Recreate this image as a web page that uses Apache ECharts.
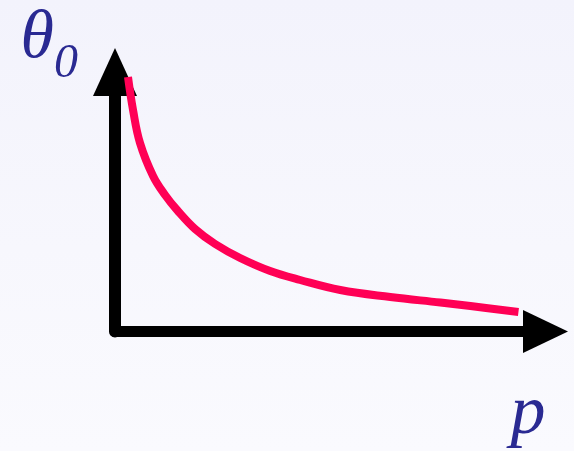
<!DOCTYPE html>
<html>
<head>
<meta charset="utf-8">
<script src="https://cdn.jsdelivr.net/npm/echarts@6/dist/echarts.min.js"></script>
<style>
  html, body { margin: 0; padding: 0; }
  #chart {
    width: 574px; height: 451px;
    background: linear-gradient(to bottom, #f3f3fc 0%, #f7f7fd 55%, #fafafe 100%);
  }
</style>
</head>
<body>
<div id="chart"></div>
<script>
// Decay of θ₀ with p (arbitrary units on both axes)
const pValues     = [0.302, 0.419, 0.581, 0.884, 1.163, 1.442, 1.860, 2.326, 2.907, 3.605, 4.302, 5.233, 6.395, 7.558, 8.256, 9.372];
const thetaValues = [9.807, 8.536, 7.264, 5.992, 5.260, 4.682, 3.950, 3.372, 2.832, 2.331, 1.985, 1.599, 1.329, 1.117, 0.983, 0.751];
const xAxisName = 'p';
const yAxisName = 'θ';
const ySubscript = '0';

const points = pValues.map((p, i) => [p, thetaValues[i]]);

const chart = echarts.init(document.getElementById('chart'), null, { renderer: 'canvas' });
const ink = '#000000';
const labelColor = '#2a2a92';
const serif = '"Liberation Serif", "DejaVu Serif", serif';

chart.setOption({
  backgroundColor: 'transparent',
  animation: false,
  grid: { left: 115, right: 28.5, top: 72, bottom: 119.5, containLabel: false },
  xAxis: {
    type: 'value', min: 0, max: 10,
    name: xAxisName,
    nameLocation: 'end',
    nameGap: 0,
    nameTextStyle: {
      fontFamily: serif, fontStyle: 'italic', fontSize: 70, color: labelColor,
      align: 'right', verticalAlign: 'top', padding: [48, 0, 0, 0]
    },
    axisLine: {
      show: true, onZero: false,
      symbol: ['none', 'triangle'], symbolSize: [43, 45],
      lineStyle: { color: ink, width: 11 }
    },
    axisTick: { show: false }, axisLabel: { show: false }, splitLine: { show: false }
  },
  yAxis: {
    type: 'value', min: 0, max: 10,
    name: '{t|' + yAxisName + '}{s|' + ySubscript + '}',
    nameLocation: 'end',
    nameGap: 67,
    nameTextStyle: {
      align: 'right', verticalAlign: 'top', padding: [0, 37, 0, 0],
      rich: {
        t: { fontFamily: serif, fontStyle: 'italic', fontSize: 68, color: labelColor, verticalAlign: 'top' },
        s: { fontFamily: serif, fontStyle: 'italic', fontSize: 48, color: labelColor, verticalAlign: 'top', padding: [35, 0, 0, 0] }
      }
    },
    axisLine: {
      show: true, onZero: false,
      symbol: ['none', 'triangle'], symbolSize: [44, 48],
      lineStyle: { color: ink, width: 12 }
    },
    axisTick: { show: false }, axisLabel: { show: false }, splitLine: { show: false }
  },
  series: [{
    type: 'line',
    data: points,
    smooth: 0.4,
    showSymbol: false,
    lineStyle: { color: '#ff0055', width: 8 },
    z: 3
  }]
});
</script>
</body>
</html>
